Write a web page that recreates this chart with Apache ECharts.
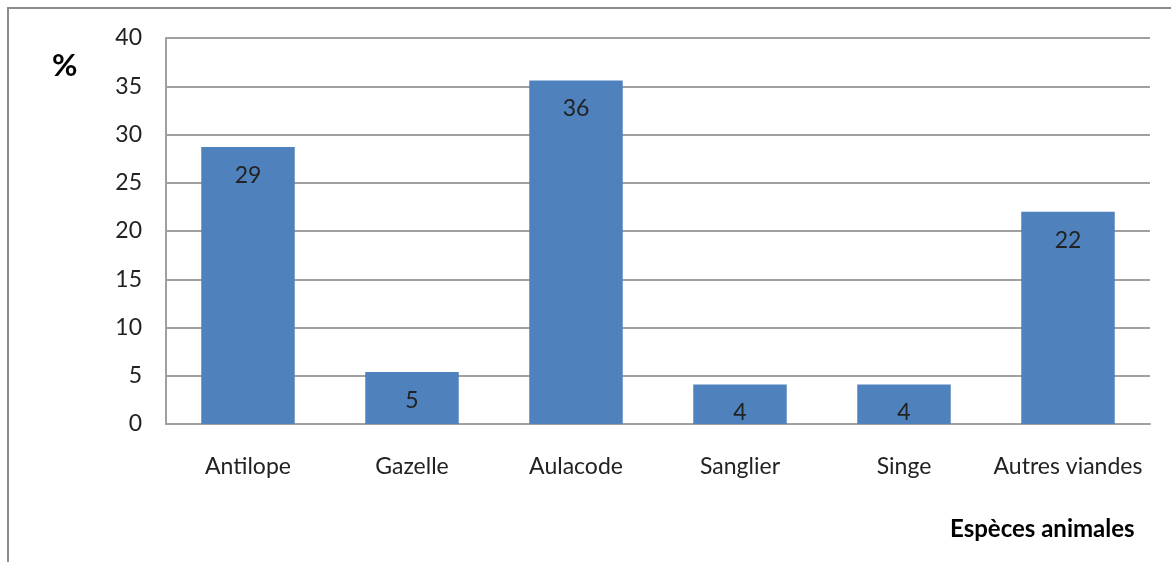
<!DOCTYPE html>
<html>
<head>
<meta charset="utf-8">
<script src="https://cdn.jsdelivr.net/npm/echarts@6/dist/echarts.min.js"></script>
<style>
  html, body { margin: 0; padding: 0; background: #fff; }
  #chart { width: 1171px; height: 562px; }
</style>
</head>
<body>
<div id="chart"></div>
<script>
// especes et pourcentages
const categories = ["Antilope", "Gazelle", "Aulacode", "Sanglier", "Singe", "Autres viandes"];
const values = [28.7, 5.4, 35.6, 4.1, 4.1, 22.0];
const labels = ["29", "5", "36", "4", "4", "22"];

const font = "Lato, 'Open Sans', sans-serif";

const myChart = echarts.init(document.getElementById("chart"));
myChart.setOption({
  animation: false,
  grid: { left: 166, right: 21, top: 38, bottom: 138 },
  graphic: [
    {
      type: "polyline",
      shape: { points: [[8, 562], [8, 8], [1171, 8]] },
      style: { stroke: "#8c8c8c", lineWidth: 2, fill: null }
    },
    {
      type: "text",
      left: 52, top: 50,
      style: { text: "%", font: "bold 31px " + font, fill: "#000" }
    },
    {
      type: "text",
      left: 950, top: 517,
      style: { text: "Espèces animales", font: "bold 24px " + font, fill: "#000" }
    }
  ],
  xAxis: {
    type: "category",
    data: categories,
    axisLine: { lineStyle: { color: "#a0a0a0", width: 2 } },
    axisTick: { show: false },
    axisLabel: { color: "#222", fontSize: 23, fontFamily: font, margin: 31, interval: 0 }
  },
  yAxis: {
    type: "value",
    min: 0, max: 40, interval: 5,
    axisLine: { show: true, lineStyle: { color: "#a0a0a0", width: 2 } },
    axisTick: { show: false },
    splitLine: { lineStyle: { color: "#a0a0a0", width: 2 } },
    axisLabel: { color: "#222", fontSize: 23, fontFamily: font, margin: 24 }
  },
  series: [
    {
      type: "bar",
      data: values,
      barWidth: "57%",
      itemStyle: { color: "#4f81bd" },
      label: {
        show: true,
        position: "insideTop",
        distance: 17,
        color: "#222",
        fontSize: 23,
        fontFamily: font,
        formatter: p => labels[p.dataIndex]
      }
    }
  ]
});
</script>
</body>
</html>
